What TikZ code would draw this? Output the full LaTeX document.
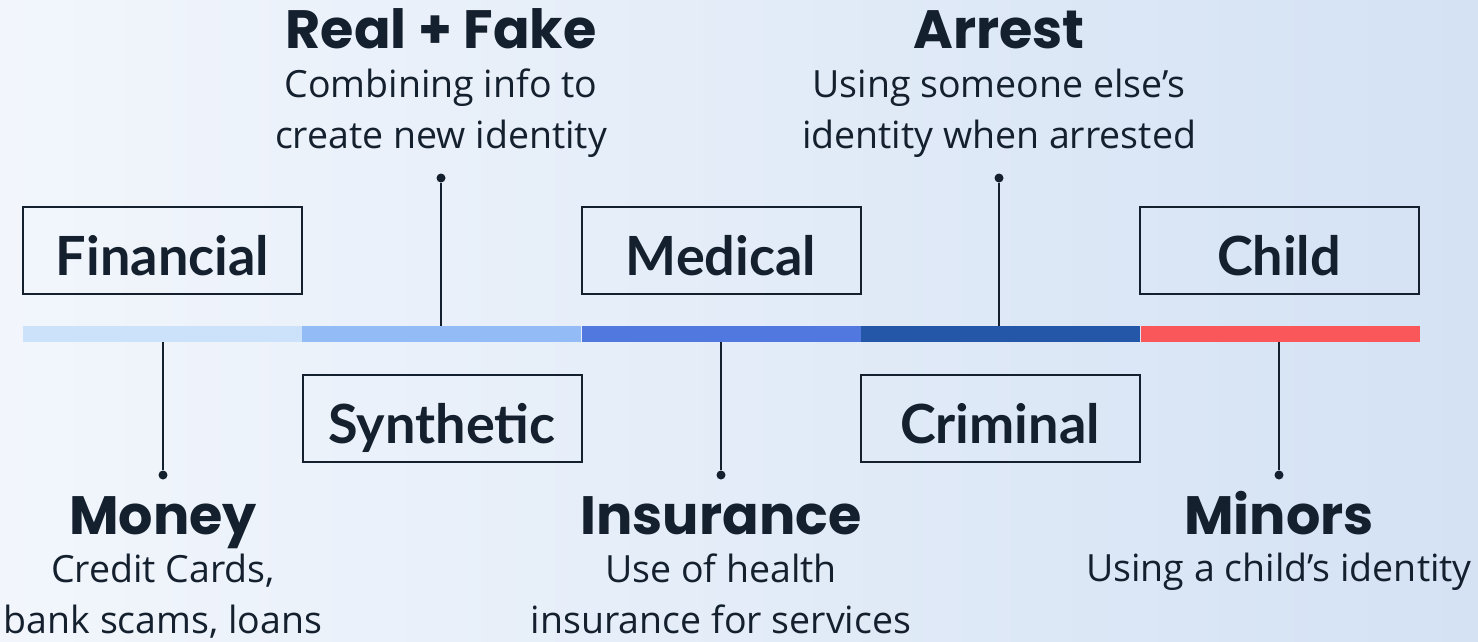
\documentclass[tikz,border=0pt]{standalone}
\usepackage{fontspec}
\setmainfont{Open Sans}
\newfontfamily\headfont{Poppins}
\newfontfamily\boxfont{Lato}
\usetikzlibrary{positioning}
\definecolor{ink}{HTML}{14202E}
\definecolor{bgleft}{HTML}{F2F6FC}
\definecolor{bgright}{HTML}{D4E2F4}
\definecolor{segA}{HTML}{CCE1FA}
\definecolor{segB}{HTML}{93BBF5}
\definecolor{segC}{HTML}{5078DF}
\definecolor{segD}{HTML}{2457A8}
\definecolor{segE}{HTML}{F9575A}

\begin{document}
\begin{tikzpicture}[x=1pt, y=-1pt]
    \tikzstyle{kind}=[draw=ink, line width=2pt, minimum width=279pt, minimum height=87pt, inner sep=0pt, text height=50pt, text depth=0pt, text=ink, font=\boxfont\bfseries\fontsize{54}{60}\selectfont];
    \tikzstyle{seg}=[minimum width=279pt, minimum height=16pt, inner sep=0pt];
    \tikzstyle{pin}=[circle, fill=ink, inner sep=0pt, minimum size=9pt];
    \tikzstyle{stem}=[draw=ink, line width=2.5pt];
    \tikzstyle{head}=[anchor=base, inner sep=0pt, text=ink, font=\headfont\bfseries\fontsize{54}{60}\selectfont];
    \tikzstyle{desc}=[anchor=base, align=center, inner sep=0pt, text=ink, font=\fontsize{37.5}{51}\selectfont];

    \clip (0,0) rectangle (1478,641);
    \shade[left color=bgleft, right color=bgright] (0,0) rectangle (1478,641);

    % timeline bar
    \node[seg, fill=segA] (s1) at (162.5,334) {};
    \node[seg, fill=segB, right=0pt of s1] (s2) {};
    \node[seg, fill=segC, right=0pt of s2] (s3) {};
    \node[seg, fill=segD, right=0pt of s3] (s4) {};
    \node[seg, fill=segE, right=0pt of s4] (s5) {};

    % boxes
    \node[kind] (financial) at (162.5,250.5) {Financial};
    \node[kind] (medical) at (721,250.5) {Medical};
    \node[kind] (child) at (1279,250.5) {Child};
    \node[kind] (synthetic) at (442,418) {Synthetic};
    \node[kind] (criminal) at (1000,418) {Criminal};

    % pins
    \node[pin] (p1) at (163,475) {};
    \node[pin] (p2) at (441,178) {};
    \node[pin] (p3) at (721,475) {};
    \node[pin] (p4) at (999,178) {};
    \node[pin] (p5) at (1279,475) {};

    \path[stem]
    (p1 |- s1.south) edge (p1)
    (p2) edge (p2 |- s2.north)
    (p3 |- s3.south) edge (p3)
    (p4) edge (p4 |- s4.north)
    (p5 |- s5.south) edge (p5);

    % labels
    \node[head] (realfake) at (441,48) {Real + Fake};
    \node[desc] (realfaketxt) at (441,148) {Combining info to\\create new identity};
    \node[head] (arrest) at (999,48) {Arrest};
    \node[desc] (arresttxt) at (999,148) {Using someone else’s\\identity when arrested};
    \node[head] (money) at (163,534) {Money};
    \node[desc] (moneytxt) at (163,633) {Credit Cards,\\bank scams, loans};
    \node[head] (insurance) at (721,534) {Insurance};
    \node[desc] (insurancetxt) at (721,633) {Use of health\\insurance for services};
    \node[head] (minors) at (1279,534) {Minors};
    \node[desc] (minorstxt) at (1279,581) {Using a child’s identity};
\end{tikzpicture}
\end{document}
